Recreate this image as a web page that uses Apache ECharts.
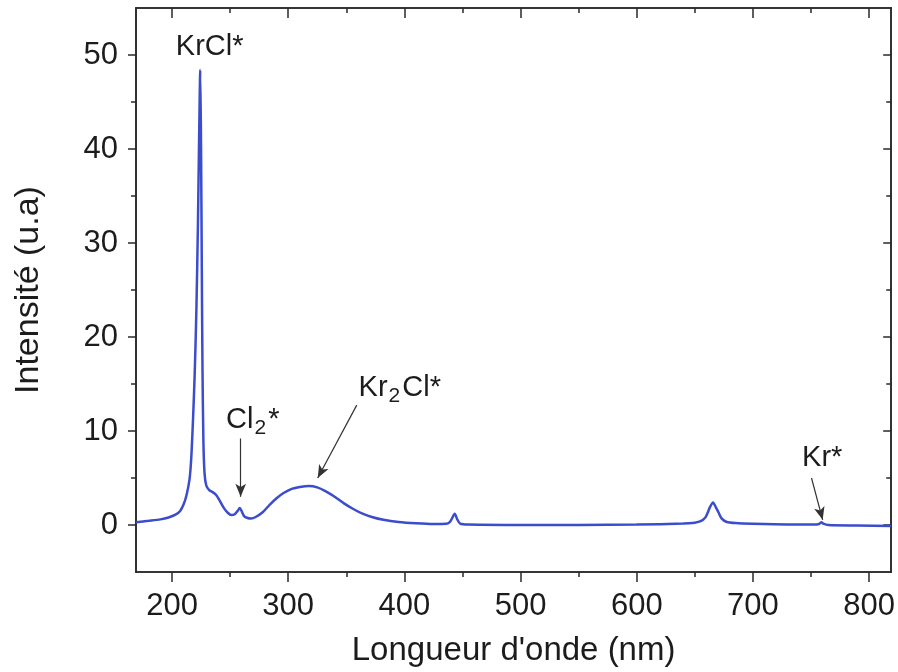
<!DOCTYPE html>
<html>
<head>
<meta charset="utf-8">
<script src="https://cdn.jsdelivr.net/npm/echarts@6/dist/echarts.min.js"></script>
<style>
html,body{margin:0;padding:0;background:#fff;}
#chart{width:898px;height:672px;}
</style>
</head>
<body>
<div id="chart"></div>
<script>
// ---- data ----
const wavelength = [169,180,190,197,203,207,210,212.5,215,216.5,218,219.5,221,222.3,223.3,224.3,225,225.6,226.2,227,228,229.5,232,235,238,241,244.7,248,251,254,256.5,258.3,260,262,265,268,272,278,284,290,296,303,310,318,325,332,340,348,356,364,372,382,395,410,425,436,439,441,443.3,445.5,448,455,500,550,600,640,650,655,659,661,663,665.6,668,670.5,673,677,685,700,730,755,757.5,759,760.5,765,790,819];
const intensity = [0.30,0.45,0.6,0.8,1.1,1.5,2.2,3.2,4.8,7,11,16,23,32,41,48.4,40,28,17,9,5.5,4.2,3.7,3.5,3.2,2.6,1.8,1.3,1.06,1.15,1.5,1.8,1.45,0.95,0.75,0.7,0.85,1.35,2.15,2.85,3.4,3.85,4.05,4.15,4.0,3.6,3.0,2.3,1.7,1.2,0.85,0.55,0.32,0.18,0.1,0.12,0.3,0.7,1.2,0.6,0.15,0.05,0.0,0.0,0.05,0.15,0.25,0.4,0.8,1.3,1.9,2.4,1.9,1.3,0.7,0.35,0.2,0.12,0.05,0.05,0.15,0.3,0.15,0.0,-0.05,-0.1];
const xMajorTicks = [200,300,400,500,600,700,800];
const xMinorTicks = [250,350,450,550,650,750];
const yMajorTicks = [0,10,20,30,40,50];
const yMinorTicks = [5,15,25,35,45];
const xRange = [169, 819];
const yRange = [-5, 55];
const xTitle = "Longueur d'onde (nm)";
const yTitle = "Intensité (u.a)";
// annotation labels: [x, y, text]
const peakLabels = [
  [232.4, 50.9, '{n|KrCl*}'],
  [269.5, 11.2, '{n|Cl}{s|2}{n|*}'],
  [396.0, 14.6, '{n|Kr}{s|2}{n|Cl*}'],
  [759.6, 7.1, '{n|Kr*}']
];
// arrows: [x1, y1, x2, y2]
const peakArrows = [
  [259.1, 9.2, 259.1, 3.0],
  [359.0, 12.75, 325.4, 5.0],
  [750.4, 5.0, 760.0, 0.55]
];

const FONT = 'Liberation Sans, Arial, Helvetica, sans-serif';
const TXT = '#1c1c1c';
const AX = '#2a2a2a';

function xAxisDef(pos, ticks, len, inside, opts) {
  return Object.assign({
    type: 'value', position: pos, min: xRange[0], max: xRange[1],
    minInterval: 100, maxInterval: 100,
    axisLine: {show: true, onZero: false, lineStyle: {color: AX, width: 1.6}},
    axisTick: {show: true, inside: inside, length: len, customValues: ticks, lineStyle: {color: AX, width: 1.5}},
    axisLabel: {show: false},
    splitLine: {show: false}
  }, opts || {});
}
function yAxisDef(pos, ticks, len, inside, opts) {
  return Object.assign({
    type: 'value', position: pos, min: yRange[0], max: yRange[1],
    minInterval: 10, maxInterval: 10,
    axisLine: {show: true, onZero: false, lineStyle: {color: AX, width: 1.6}},
    axisTick: {show: true, inside: inside, length: len, customValues: ticks, lineStyle: {color: AX, width: 1.5}},
    axisLabel: {show: false},
    splitLine: {show: false}
  }, opts || {});
}

const chart = echarts.init(document.getElementById('chart'), null, {renderer: 'canvas'});
const option = {
  backgroundColor: '#ffffff',
  animation: false,
  grid: {left: 136, right: 6, top: 8, bottom: 100, containLabel: false},
  xAxis: [
    xAxisDef('bottom', xMajorTicks, 10, false, {
      axisLabel: {show: true, customValues: xMajorTicks, color: TXT, fontSize: 31, fontFamily: FONT, margin: 19},
      name: xTitle, nameLocation: 'middle', nameGap: 62,
      nameTextStyle: {color: TXT, fontSize: 33, fontFamily: FONT}
    }),
    xAxisDef('bottom', xMinorTicks, 5, false),
    xAxisDef('top', xMajorTicks, 10, true),
    xAxisDef('top', xMinorTicks, 5, true)
  ],
  yAxis: [
    yAxisDef('left', yMajorTicks, 8, false, {
      axisLabel: {show: true, customValues: yMajorTicks, color: TXT, fontSize: 31, fontFamily: FONT, margin: 18},
      name: yTitle, nameLocation: 'middle', nameGap: 90, nameRotate: 90,
      nameTextStyle: {color: TXT, fontSize: 34, fontFamily: FONT}
    }),
    yAxisDef('left', yMinorTicks, 5, false),
    yAxisDef('right', yMajorTicks, 8, true),
    yAxisDef('right', yMinorTicks, 5, true)
  ],
  series: [{
    type: 'line',
    xAxisIndex: 0, yAxisIndex: 0,
    data: wavelength.map((w, i) => [w, intensity[i]]),
    showSymbol: false,
    smooth: 0.25,
    lineStyle: {color: '#3b4ccc', width: 2.5},
    itemStyle: {color: '#3b4ccc'},
    silent: true,
    markPoint: {
      silent: true,
      symbol: 'circle', symbolSize: 0,
      data: peakLabels.map(p => ({
        coord: [p[0], p[1]],
        label: {
          show: true, position: 'inside', formatter: p[2],
          rich: {
            n: {fontSize: 29, fontFamily: FONT, color: TXT},
            s: {fontSize: 21, fontFamily: FONT, color: TXT, padding: [16, 2, 0, 1]}
          }
        }
      }))
    },
    markLine: {
      silent: true,
      symbol: ['none', 'arrow'], symbolSize: [8, 13],
      label: {show: false},
      lineStyle: {color: '#333', width: 1.2, type: 'solid'},
      data: peakArrows.map(a => [{coord: [a[0], a[1]]}, {coord: [a[2], a[3]]}])
    }
  }]
};
chart.setOption(option);
</script>
</body>
</html>
